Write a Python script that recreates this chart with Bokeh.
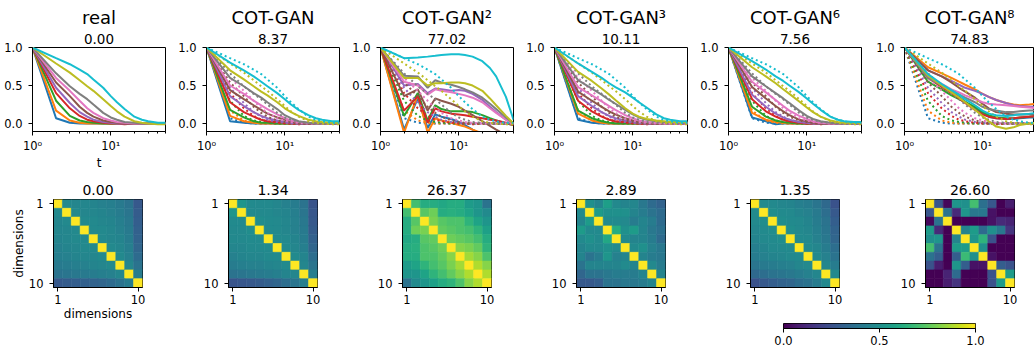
import numpy as np
from bokeh.plotting import figure
from bokeh.models import Range1d, FixedTicker, Title, ColumnDataSource, LinearColorMapper, PrintfTickFormatter
from bokeh.layouts import row, column
from bokeh.palettes import Viridis256
from bokeh.transform import linear_cmap
from bokeh.embed import file_html
from bokeh.resources import INLINE

# ---------------- data ----------------
T = [1, 2, 3, 4, 5, 6, 8, 10, 12, 15, 20, 25, 30, 40, 50]
DIM_COLORS = ["#1f77b4", "#ff7f0e", "#2ca02c", "#d62728", "#9467bd",
              "#8c564b", "#e377c2", "#7f7f7f", "#bcbd22", "#17becf"]
MODEL_NAMES = ["real", "COT-GAN", "COT-GAN\u00b2", "COT-GAN\u00b3", "COT-GAN\u2076", "COT-GAN\u2078"]
ACF_SCORES = ["0.00", "8.37", "77.02", "10.11", "7.56", "74.83"]
CORR_SCORES = ["0.00", "1.34", "26.37", "2.89", "1.35", "26.60"]

ACF_REAL = [
    [1.00, 0.07, 0.01, 0.00, 0.00, 0.00, 0.00, 0.00, 0.00, 0.00, 0.00, 0.00, 0.00, 0.00, 0.00],
    [1.00, 0.17, 0.04, 0.01, 0.00, 0.00, 0.00, 0.00, 0.00, 0.00, 0.00, 0.00, 0.00, 0.00, 0.00],
    [1.00, 0.30, 0.10, 0.04, 0.02, 0.01, 0.00, 0.00, 0.00, 0.00, 0.00, 0.00, 0.00, 0.00, 0.00],
    [1.00, 0.40, 0.20, 0.10, 0.05, 0.03, 0.01, 0.00, 0.00, -0.01, 0.00, 0.00, 0.00, 0.00, 0.00],
    [1.00, 0.47, 0.27, 0.15, 0.09, 0.05, 0.02, 0.01, 0.00, 0.00, 0.00, 0.00, 0.00, 0.00, 0.00],
    [1.00, 0.54, 0.36, 0.22, 0.14, 0.09, 0.04, 0.02, 0.01, 0.00, 0.00, 0.00, 0.00, 0.00, 0.00],
    [1.00, 0.60, 0.43, 0.30, 0.20, 0.14, 0.07, 0.04, 0.02, 0.01, 0.00, 0.00, 0.00, 0.00, 0.00],
    [1.00, 0.66, 0.49, 0.39, 0.32, 0.25, 0.14, 0.08, 0.05, 0.02, 0.01, 0.00, 0.00, 0.00, 0.00],
    [1.00, 0.79, 0.67, 0.57, 0.49, 0.43, 0.32, 0.23, 0.16, 0.09, 0.03, 0.01, 0.00, -0.01, -0.01],
    [1.00, 0.86, 0.78, 0.71, 0.65, 0.58, 0.47, 0.36, 0.28, 0.19, 0.09, 0.05, 0.03, 0.01, 0.01],
]
ACF_COTGAN = [
    [1.00, 0.03, 0.01, 0.00, 0.00, 0.00, 0.00, 0.00, 0.00, 0.00, 0.00, 0.00, 0.00, 0.00, 0.00],
    [1.00, 0.10, 0.03, 0.01, 0.00, 0.00, 0.00, 0.00, 0.00, 0.00, 0.00, 0.00, 0.00, 0.00, 0.00],
    [1.00, 0.18, 0.08, 0.03, 0.01, 0.01, 0.00, 0.00, 0.00, 0.00, 0.00, 0.00, 0.00, 0.00, 0.00],
    [1.00, 0.28, 0.15, 0.09, 0.05, 0.03, 0.02, 0.01, 0.00, 0.00, 0.00, 0.00, 0.00, 0.00, 0.00],
    [1.00, 0.36, 0.23, 0.15, 0.10, 0.07, 0.04, 0.02, 0.01, 0.00, 0.00, 0.00, 0.00, 0.00, 0.00],
    [1.00, 0.44, 0.32, 0.24, 0.18, 0.13, 0.08, 0.05, 0.03, 0.01, 0.00, 0.00, 0.00, 0.00, 0.00],
    [1.00, 0.50, 0.39, 0.30, 0.24, 0.19, 0.12, 0.07, 0.04, 0.02, 0.01, 0.00, 0.00, 0.00, 0.00],
    [1.00, 0.60, 0.49, 0.40, 0.34, 0.28, 0.19, 0.11, 0.07, 0.03, 0.01, 0.00, 0.00, 0.00, 0.00],
    [1.00, 0.70, 0.58, 0.49, 0.42, 0.37, 0.28, 0.20, 0.15, 0.10, 0.05, 0.03, 0.02, 0.01, 0.01],
    [1.00, 0.80, 0.70, 0.62, 0.55, 0.49, 0.40, 0.32, 0.25, 0.18, 0.11, 0.07, 0.05, 0.03, 0.03],
]
ACF_COTGAN2 = [
    [1.00, -0.08, 0.33, -0.06, 0.12, 0.09, 0.06, 0.02, -0.02, -0.08, -0.15, -0.20, -0.25, -0.30, -0.35],
    [1.00, -0.12, 0.38, -0.12, 0.07, 0.04, 0.01, -0.02, -0.04, -0.08, -0.13, -0.18, -0.22, -0.28, -0.32],
    [1.00, 0.10, 0.40, 0.04, 0.24, 0.19, 0.16, 0.16, 0.16, 0.15, 0.11, 0.07, 0.04, 0.00, -0.02],
    [1.00, 0.17, 0.36, 0.01, 0.20, 0.16, 0.13, 0.12, 0.11, 0.09, 0.07, 0.05, 0.04, 0.01, -0.02],
    [1.00, 0.50, 0.52, 0.40, 0.46, 0.45, 0.43, 0.44, 0.43, 0.39, 0.31, 0.22, 0.15, 0.05, -0.01],
    [1.00, 0.36, 0.45, 0.17, 0.33, 0.30, 0.26, 0.22, 0.17, 0.11, 0.03, -0.03, -0.08, -0.15, -0.20],
    [1.00, 0.55, 0.50, 0.38, 0.45, 0.43, 0.41, 0.39, 0.37, 0.34, 0.28, 0.20, 0.14, 0.05, -0.01],
    [1.00, 0.63, 0.62, 0.47, 0.57, 0.54, 0.51, 0.48, 0.45, 0.41, 0.34, 0.26, 0.19, 0.08, 0.00],
    [1.00, 0.60, 0.60, 0.50, 0.53, 0.53, 0.54, 0.54, 0.53, 0.50, 0.43, 0.33, 0.24, 0.10, 0.00],
    [1.00, 0.86, 0.87, 0.88, 0.89, 0.90, 0.91, 0.91, 0.90, 0.88, 0.82, 0.73, 0.62, 0.35, 0.05],
]
ACF_COTGAN3 = [
    [1.00, 0.05, 0.01, 0.00, 0.00, 0.00, 0.00, 0.00, 0.00, 0.00, 0.00, 0.00, 0.00, 0.00, 0.00],
    [1.00, 0.13, 0.04, 0.01, 0.00, 0.00, 0.00, 0.00, 0.00, 0.00, 0.00, 0.00, 0.00, 0.00, 0.00],
    [1.00, 0.17, 0.07, 0.03, 0.01, 0.00, 0.00, 0.00, 0.00, 0.00, 0.00, 0.00, 0.00, 0.00, 0.00],
    [1.00, 0.30, 0.16, 0.09, 0.05, 0.03, 0.02, 0.01, 0.00, 0.00, 0.00, 0.00, 0.00, 0.00, 0.00],
    [1.00, 0.36, 0.23, 0.15, 0.10, 0.07, 0.04, 0.02, 0.01, 0.00, 0.00, 0.00, 0.00, 0.00, 0.00],
    [1.00, 0.42, 0.30, 0.22, 0.16, 0.12, 0.07, 0.04, 0.02, 0.01, 0.00, 0.00, 0.00, 0.00, 0.00],
    [1.00, 0.48, 0.37, 0.29, 0.23, 0.18, 0.11, 0.07, 0.04, 0.02, 0.01, 0.00, 0.00, 0.00, 0.00],
    [1.00, 0.57, 0.46, 0.38, 0.31, 0.26, 0.18, 0.12, 0.08, 0.05, 0.03, 0.02, 0.02, 0.01, 0.01],
    [1.00, 0.68, 0.56, 0.46, 0.38, 0.31, 0.20, 0.13, 0.09, 0.06, 0.04, 0.03, 0.02, 0.02, 0.02],
    [1.00, 0.79, 0.68, 0.60, 0.53, 0.48, 0.41, 0.34, 0.28, 0.21, 0.12, 0.07, 0.05, 0.03, 0.03],
]
ACF_COTGAN6 = [
    [1.00, 0.08, 0.03, -0.01, 0.00, 0.00, 0.00, 0.00, 0.00, 0.00, 0.00, 0.00, 0.00, 0.00, 0.00],
    [1.00, 0.14, 0.05, 0.02, 0.01, 0.00, 0.00, 0.00, 0.00, 0.00, 0.00, 0.00, 0.00, 0.00, 0.00],
    [1.00, 0.22, 0.09, 0.04, 0.02, 0.01, 0.00, 0.00, 0.00, 0.00, 0.00, 0.00, 0.00, 0.00, 0.00],
    [1.00, 0.32, 0.16, 0.09, 0.05, 0.03, 0.01, 0.00, 0.00, 0.00, 0.00, 0.00, 0.00, 0.00, 0.00],
    [1.00, 0.38, 0.22, 0.13, 0.08, 0.05, 0.02, 0.01, 0.00, 0.00, 0.00, 0.00, 0.00, 0.00, 0.00],
    [1.00, 0.48, 0.33, 0.23, 0.16, 0.11, 0.05, 0.03, 0.01, 0.00, 0.00, 0.00, 0.00, 0.00, 0.00],
    [1.00, 0.55, 0.41, 0.31, 0.23, 0.17, 0.10, 0.06, 0.03, 0.01, 0.00, 0.00, 0.00, 0.00, 0.00],
    [1.00, 0.62, 0.49, 0.40, 0.33, 0.27, 0.17, 0.10, 0.06, 0.03, 0.01, 0.00, 0.00, 0.00, 0.00],
    [1.00, 0.74, 0.62, 0.53, 0.45, 0.39, 0.29, 0.21, 0.15, 0.09, 0.04, 0.02, 0.01, 0.01, 0.01],
    [1.00, 0.82, 0.71, 0.62, 0.56, 0.50, 0.41, 0.33, 0.26, 0.18, 0.09, 0.05, 0.03, 0.02, 0.02],
]
ACF_COTGAN8 = [
    [1.00, 0.62, 0.50, 0.42, 0.35, 0.29, 0.20, 0.13, 0.09, 0.07, 0.06, 0.06, 0.07, 0.08, 0.08],
    [1.00, 0.74, 0.66, 0.60, 0.55, 0.51, 0.45, 0.39, 0.35, 0.31, 0.27, 0.25, 0.24, 0.25, 0.26],
    [1.00, 0.55, 0.45, 0.37, 0.32, 0.28, 0.22, 0.15, 0.11, 0.08, 0.07, 0.07, 0.08, 0.09, 0.10],
    [1.00, 0.60, 0.48, 0.40, 0.33, 0.27, 0.18, 0.12, 0.09, 0.07, 0.06, 0.07, 0.08, 0.09, 0.10],
    [1.00, 0.70, 0.62, 0.56, 0.51, 0.47, 0.43, 0.39, 0.35, 0.31, 0.27, 0.24, 0.23, 0.22, 0.22],
    [1.00, 0.70, 0.62, 0.54, 0.47, 0.42, 0.34, 0.26, 0.20, 0.15, 0.13, 0.12, 0.12, 0.12, 0.12],
    [1.00, 0.62, 0.52, 0.45, 0.41, 0.37, 0.32, 0.28, 0.26, 0.25, 0.24, 0.23, 0.22, 0.21, 0.20],
    [1.00, 0.60, 0.50, 0.43, 0.38, 0.34, 0.28, 0.22, 0.19, 0.17, 0.15, 0.15, 0.16, 0.17, 0.17],
    [1.00, 0.63, 0.50, 0.41, 0.34, 0.28, 0.18, 0.10, 0.03, -0.04, -0.07, -0.05, -0.02, 0.00, 0.01],
    [1.00, 0.65, 0.52, 0.44, 0.38, 0.32, 0.24, 0.17, 0.13, 0.11, 0.10, 0.11, 0.12, 0.13, 0.14],
]
ACF_GENERATED = [None, ACF_COTGAN, ACF_COTGAN2, ACF_COTGAN3, ACF_COTGAN6, ACF_COTGAN8]

CORR_REAL = [
    [1.00, 0.47, 0.46, 0.46, 0.45, 0.44, 0.43, 0.41, 0.38, 0.28],
    [0.47, 1.00, 0.47, 0.46, 0.46, 0.45, 0.44, 0.42, 0.39, 0.29],
    [0.46, 0.47, 1.00, 0.47, 0.47, 0.46, 0.45, 0.43, 0.40, 0.30],
    [0.46, 0.46, 0.47, 1.00, 0.47, 0.47, 0.46, 0.44, 0.41, 0.31],
    [0.45, 0.46, 0.47, 0.47, 1.00, 0.47, 0.46, 0.45, 0.42, 0.32],
    [0.44, 0.45, 0.46, 0.47, 0.47, 1.00, 0.47, 0.46, 0.43, 0.33],
    [0.43, 0.44, 0.45, 0.46, 0.46, 0.47, 1.00, 0.47, 0.44, 0.35],
    [0.41, 0.42, 0.43, 0.44, 0.45, 0.46, 0.47, 1.00, 0.46, 0.38],
    [0.38, 0.39, 0.40, 0.41, 0.42, 0.43, 0.44, 0.46, 1.00, 0.42],
    [0.28, 0.29, 0.30, 0.31, 0.32, 0.33, 0.35, 0.38, 0.42, 1.00],
]
CORR_COTGAN = [
    [1.00, 0.52, 0.48, 0.47, 0.47, 0.46, 0.44, 0.42, 0.38, 0.26],
    [0.52, 1.00, 0.48, 0.47, 0.47, 0.46, 0.45, 0.43, 0.39, 0.27],
    [0.48, 0.48, 1.00, 0.49, 0.48, 0.47, 0.46, 0.44, 0.40, 0.28],
    [0.47, 0.47, 0.49, 1.00, 0.48, 0.47, 0.46, 0.44, 0.41, 0.29],
    [0.47, 0.47, 0.48, 0.48, 1.00, 0.48, 0.47, 0.45, 0.42, 0.31],
    [0.46, 0.46, 0.47, 0.47, 0.48, 1.00, 0.48, 0.46, 0.43, 0.33],
    [0.44, 0.45, 0.46, 0.46, 0.47, 0.48, 1.00, 0.48, 0.45, 0.36],
    [0.42, 0.43, 0.44, 0.44, 0.45, 0.46, 0.48, 1.00, 0.46, 0.39],
    [0.38, 0.39, 0.40, 0.41, 0.42, 0.43, 0.45, 0.46, 1.00, 0.43],
    [0.26, 0.27, 0.28, 0.29, 0.31, 0.33, 0.36, 0.39, 0.43, 1.00],
]
CORR_COTGAN2 = [
    [1.00, 0.70, 0.62, 0.62, 0.60, 0.62, 0.62, 0.55, 0.52, 0.38],
    [0.70, 1.00, 0.74, 0.78, 0.62, 0.63, 0.62, 0.58, 0.52, 0.48],
    [0.62, 0.74, 1.00, 0.80, 0.74, 0.72, 0.72, 0.65, 0.58, 0.52],
    [0.62, 0.78, 0.80, 1.00, 0.76, 0.74, 0.72, 0.70, 0.65, 0.57],
    [0.60, 0.62, 0.74, 0.76, 1.00, 0.78, 0.76, 0.74, 0.70, 0.62],
    [0.62, 0.63, 0.72, 0.74, 0.78, 1.00, 0.82, 0.80, 0.76, 0.65],
    [0.62, 0.62, 0.72, 0.72, 0.76, 0.82, 1.00, 0.86, 0.82, 0.72],
    [0.55, 0.58, 0.65, 0.70, 0.74, 0.80, 0.86, 1.00, 0.88, 0.82],
    [0.52, 0.52, 0.58, 0.65, 0.70, 0.76, 0.82, 0.88, 1.00, 0.88],
    [0.38, 0.48, 0.52, 0.57, 0.62, 0.65, 0.72, 0.82, 0.88, 1.00],
]
CORR_COTGAN3 = [
    [1.00, 0.50, 0.45, 0.56, 0.47, 0.45, 0.46, 0.40, 0.35, 0.32],
    [0.48, 1.00, 0.55, 0.50, 0.50, 0.50, 0.45, 0.42, 0.38, 0.35],
    [0.45, 0.55, 1.00, 0.48, 0.48, 0.47, 0.42, 0.45, 0.42, 0.35],
    [0.55, 0.48, 0.48, 1.00, 0.62, 0.50, 0.55, 0.45, 0.40, 0.37],
    [0.48, 0.50, 0.48, 0.60, 1.00, 0.48, 0.45, 0.45, 0.42, 0.35],
    [0.45, 0.48, 0.47, 0.50, 0.48, 1.00, 0.48, 0.50, 0.44, 0.40],
    [0.45, 0.38, 0.42, 0.52, 0.44, 0.45, 1.00, 0.45, 0.42, 0.40],
    [0.38, 0.45, 0.45, 0.45, 0.45, 0.48, 0.45, 1.00, 0.47, 0.42],
    [0.33, 0.38, 0.38, 0.40, 0.42, 0.42, 0.42, 0.45, 1.00, 0.45],
    [0.28, 0.28, 0.30, 0.38, 0.38, 0.40, 0.40, 0.42, 0.45, 1.00],
]
CORR_COTGAN6 = [
    [1.00, 0.48, 0.47, 0.46, 0.45, 0.43, 0.42, 0.39, 0.34, 0.25],
    [0.48, 1.00, 0.49, 0.48, 0.47, 0.45, 0.44, 0.41, 0.36, 0.28],
    [0.47, 0.49, 1.00, 0.49, 0.48, 0.47, 0.45, 0.42, 0.38, 0.30],
    [0.46, 0.48, 0.49, 1.00, 0.49, 0.47, 0.46, 0.43, 0.39, 0.32],
    [0.45, 0.47, 0.48, 0.49, 1.00, 0.48, 0.47, 0.44, 0.40, 0.33],
    [0.43, 0.45, 0.47, 0.47, 0.48, 1.00, 0.48, 0.46, 0.42, 0.36],
    [0.42, 0.44, 0.45, 0.46, 0.47, 0.48, 1.00, 0.47, 0.44, 0.38],
    [0.39, 0.41, 0.42, 0.43, 0.44, 0.46, 0.47, 1.00, 0.46, 0.42],
    [0.34, 0.36, 0.38, 0.39, 0.40, 0.42, 0.44, 0.46, 1.00, 0.47],
    [0.25, 0.28, 0.30, 0.32, 0.33, 0.36, 0.38, 0.42, 0.47, 1.00],
]
CORR_COTGAN8 = [
    [1.00, 0.27, 0.02, 0.52, 0.50, 0.70, 0.37, 0.27, 0.00, 0.08],
    [0.27, 1.00, 0.38, 0.12, 0.52, 0.40, 0.40, 0.05, 0.00, 0.00],
    [0.02, 0.38, 1.00, 0.00, 0.00, 0.00, 0.00, 0.05, 0.12, 0.10],
    [0.55, 0.12, 0.00, 1.00, 0.45, 0.55, 0.35, 0.50, 0.40, 0.15],
    [0.50, 0.52, 0.00, 0.45, 1.00, 0.52, 0.65, 0.25, 0.00, 0.00],
    [0.70, 0.38, 0.00, 0.55, 0.55, 1.00, 0.50, 0.00, 0.00, 0.00],
    [0.38, 0.30, 0.00, 0.30, 0.68, 0.50, 1.00, 0.05, 0.00, 0.00],
    [0.25, 0.08, 0.00, 0.52, 0.30, 0.05, 0.05, 1.00, 0.30, 0.25],
    [0.00, 0.00, 0.10, 0.35, 0.00, 0.00, 0.00, 0.25, 1.00, 0.55],
    [0.00, 0.00, 0.08, 0.15, 0.00, 0.00, 0.00, 0.25, 0.55, 1.00],
]
CORR_MATRICES = [CORR_REAL, CORR_COTGAN, CORR_COTGAN2, CORR_COTGAN3, CORR_COTGAN6, CORR_COTGAN8]

X_MAJOR = [1, 10]
X_MINOR = [2, 3, 4, 5, 6, 7, 8, 9, 20, 30, 40, 50]
Y_TICKS = [0, 0.5, 1.0]
DIM_TICKS = [1, 10]
CBAR_TICKS = [0, 0.5, 1.0]

# ---------------- styling helpers ----------------
FONT = "DejaVu Sans"
TICK_FS = "11.5px"


def style_axes(p):
    for ax in p.axis:
        ax.major_label_text_font = FONT
        ax.major_label_text_font_size = TICK_FS
        ax.major_label_text_color = "black"
        ax.axis_line_color = "black"
        ax.major_tick_line_color = "black"
        ax.minor_tick_line_color = "black"
        ax.major_tick_in = 0
        ax.major_tick_out = 4
        ax.minor_tick_in = 0
        ax.minor_tick_out = 2
        ax.major_label_standoff = 3
        ax.axis_label_standoff = 0
        ax.axis_label_text_font = FONT
        ax.axis_label_text_font_size = "12px"
        ax.axis_label_text_font_style = "normal"
        ax.axis_label_text_color = "black"
    for ax in p.yaxis:
        ax.major_label_standoff = 6
    p.grid.visible = False
    p.outline_line_color = "black"
    p.outline_line_width = 1


def make_title(text, size, standoff):
    return Title(text=text, align="center", text_font=FONT, text_font_size=size,
                 text_font_style="normal", text_color="black", standoff=standoff)


mapper = LinearColorMapper(palette=Viridis256, low=0, high=1)

# ---------------- top row: autocorrelation ----------------
top_figs = []
for k in range(6):
    last = k == 5
    p = figure(x_axis_type="log", x_range=Range1d(1, 46.4 if last else 50), y_range=Range1d(-0.105, 1.0),
               width=164 if last else 174, height=172,
               min_border_left=34 if last else 32, min_border_right=0 if last else 9,
               min_border_top=47, min_border_bottom=36,
               toolbar_location=None, output_backend="svg", title=None)
    p.add_layout(make_title(ACF_SCORES[k], "13.5px", 8), "above")
    p.add_layout(make_title(MODEL_NAMES[k], "18px", 0), "above")
    for i, c in enumerate(DIM_COLORS):
        if k == 0:
            p.line(T, ACF_REAL[i], line_color=c, line_width=2)
        else:
            p.line(T, ACF_GENERATED[k][i], line_color=c, line_width=2)
            p.line(T, ACF_REAL[i], line_color=c, line_width=2, line_dash="2 3")
    p.xaxis.ticker = FixedTicker(ticks=X_MAJOR, minor_ticks=X_MINOR)
    p.xaxis.major_label_overrides = {1: "10\u2070", 10: "10\u00b9"}
    p.yaxis.ticker = FixedTicker(ticks=Y_TICKS)
    p.yaxis.formatter = PrintfTickFormatter(format="%.1f")
    if k == 0:
        p.xaxis.axis_label = "t"
    style_axes(p)
    top_figs.append(p)

# ---------------- bottom row: correlation heatmaps ----------------
bot_figs = []
for k in range(6):
    last = k == 5
    M = CORR_MATRICES[k]
    xs, ys, vs = [], [], []
    for r in range(10):
        for cidx in range(10):
            xs.append(cidx + 1)
            ys.append(r + 1)
            vs.append(M[r][cidx])
    src = ColumnDataSource(dict(x=xs, y=ys, v=vs))
    bl = 53 if k == 0 else (55 if last else 54)
    w = 164 if last else 174
    p = figure(x_range=Range1d(0.5, 10.5), y_range=Range1d(10.5, 0.5),
               width=w, height=151,
               min_border_left=bl, min_border_right=w - bl - 89,
               min_border_top=27, min_border_bottom=36,
               toolbar_location=None, output_backend="svg", title=None)
    p.add_layout(make_title(CORR_SCORES[k], "14px", 10), "above")
    p.rect("x", "y", 1, 1, source=src,
           fill_color=linear_cmap("v", Viridis256, 0, 1),
           line_color=linear_cmap("v", Viridis256, 0, 1), line_width=0.6)
    p.xaxis.ticker = FixedTicker(ticks=DIM_TICKS)
    p.yaxis.ticker = FixedTicker(ticks=DIM_TICKS)
    if k == 0:
        p.xaxis.axis_label = "dimensions"
        p.yaxis.axis_label = "dimensions"
    style_axes(p)
    bot_figs.append(p)

# ---------------- colorbar ----------------
cbf = figure(x_range=Range1d(0, 1), y_range=Range1d(0, 1), width=1034, height=27,
             min_border_left=783, min_border_right=59, min_border_top=0, min_border_bottom=22,
             y_axis_location=None, toolbar_location=None, output_backend="svg", title=None)
cbar_levels = np.linspace(0, 1, 256).reshape(1, 256)
cbf.image(image=[cbar_levels], x=0, y=0, dw=1, dh=1, color_mapper=mapper)
cbf.xaxis.ticker = FixedTicker(ticks=CBAR_TICKS)
cbf.xaxis.formatter = PrintfTickFormatter(format="%.1f")
style_axes(cbf)

layout = column(row(*top_figs), row(*bot_figs), cbf)
open("out.html", "w").write(file_html(layout, INLINE))
